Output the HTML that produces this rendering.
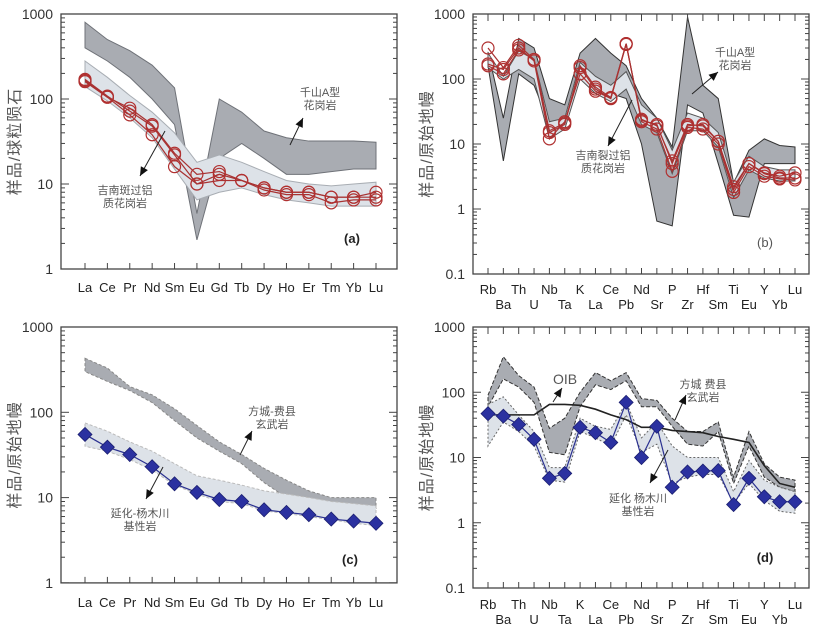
<!DOCTYPE html>
<html><head><meta charset="utf-8">
<style>
html,body{margin:0;padding:0;background:#fff;}
svg{display:block;}
text{font-family:"Liberation Sans","Noto Sans CJK SC",sans-serif;}
</style></head>
<body>
<svg id="fig" width="821" height="632" viewBox="0 0 821 632" xmlns="http://www.w3.org/2000/svg"></svg>
<script>
// ---------- DATA ----------
const reeCats = ["La","Ce","Pr","Nd","Sm","Eu","Gd","Tb","Dy","Ho","Er","Tm","Yb","Lu"];
const traceCats = ["Rb","Ba","Th","U","Nb","Ta","K","La","Ce","Pb","Nd","Sr","P","Zr","Hf","Sm","Ti","Eu","Y","Yb","Lu"];

// Panel (a)
const aDarkUpper = [800,500,370,250,135,4.5,100,70,42,35,32,32,32,31];
const aDarkLower = [400,280,180,100,50,2.2,20,30,20,13,13,14,15,15];
const aLightUpper = [280,180,110,70,40,18,22,18,14,11,10,9.5,10,10.5];
const aLightLower = [140,95,60,35,15,6.5,8,9,7.5,6.5,6,5.5,5.5,5.5];
const aSample1 = [165,105,78,50,23,13,14,11,9,8,8,7,7,8];
const aSample2 = [160,105,65,38,16,10,11,11,8.5,7.5,7.5,6,6.5,6.5];
const aSample3 = [170,108,72,48,22,10,13,11,9,8,8,7,7,7];

// Panel (b)
const bDarkUpper = [260,25,420,300,50,40,250,420,250,160,50,25,9,900,80,50,2.5,8,12,9.5,9];
const bDarkLower = [160,5.5,120,80,20,20,130,90,60,50,10,0.65,0.55,40,30,5,0.8,0.75,5,5,5];
const bLightUpper = [250,110,270,200,22,25,180,110,80,130,40,25,8,30,25,15,2.6,6.5,4.5,4,4];
const bLightLower = [150,100,140,100,12,17,100,60,45,70,20,15,3.5,16,16,9,1.5,4,3,2.7,2.7];
const bSample1 = [300,150,330,200,15,20,160,75,52,350,23,20,5,19,20,11,2.2,5,3.6,3.2,3.6];
const bSample2 = [170,140,300,190,12,22,120,65,50,350,22,17,3.8,18,17,10,1.8,4.5,3.2,2.9,2.8];
const bSample3 = [160,120,280,200,16,21,150,70,50,340,24,19,5.5,20,19,11,2,5,3.5,3,3];

// Panel (c)
const cDarkUpper = [430,330,200,160,110,70,45,32,22,16,12,10,10,10];
const cDarkLower = [300,230,180,130,80,50,35,25,15,10,9,8.5,8,7.5];
const cLightUpper = [75,60,45,35,25,18,16,14,12,11,10,9,8.5,8];
const cLightLower = [40,35,28,21,14,11,9,8.5,7,6.5,6,5.5,5,4.7];
const cSample = [55,39,32,23,14.5,11.5,9.5,9,7.2,6.7,6.3,5.6,5.3,5];

// Panel (d)
const dDarkUpper = [90,350,180,120,28,40,100,200,150,200,80,75,40,25,25,35,5,25,8,5,4.5];
const dDarkLower = [60,160,120,70,12,11,60,130,110,150,60,60,30,16,15,25,4,15,5,3.5,3];
const dLightUpper = [65,85,45,25,7,7,40,30,27,70,20,35,15,10,10,10,3,9,4.5,3.5,3];
const dLightLower = [15,35,25,15,4.5,4.2,25,20,15,45,12,16,4,5,5.5,5.5,2,4,2.2,1.5,1.4];
const dSample = [47,43,32,19,4.8,5.7,29,24,17,70,10,30,3.5,6,6.2,6.3,1.9,4.8,2.5,2.1,2.1];
const dOIB = [45,45,45,45,65,65,63,55,45,38,29,29,26,25,24,21,19,17,7.5,4,3.5];

// ---------- RENDER ----------
const NS = "http://www.w3.org/2000/svg";
const fig = document.getElementById('fig');
function mk(tag, attrs, parent){
  const e = document.createElementNS(NS, tag);
  for (const k in attrs) e.setAttribute(k, attrs[k]);
  (parent||fig).appendChild(e);
  return e;
}

function makePanel(cfg){
  const g = mk('g', {});
  
  
  const {x0,x1,yTop,decPx,vMax,vMin,cats,cx0,cx1} = cfg;
  const yBot = yTop + Math.log10(vMax/vMin)*decPx;
  const X = i => cx0 + (cx1-cx0)*i/(cats.length-1);
  const Y = v => yTop + (Math.log10(vMax) - Math.log10(v))*decPx;
  cfg.X = X; cfg.Y = Y; cfg.g = g;

  // bands
  cfg.bands.forEach(b => {
    let pts = b.upper.map((v,i)=>X(i)+','+Y(v));
    pts = pts.concat(b.lower.map((v,i)=>X(i)+','+Y(v)).reverse());
    const p = mk('polygon', {points: pts.join(' '), fill: b.fill, stroke: b.stroke, 'stroke-width': 1, 'stroke-dasharray': b.dash||'none'}, g);
    
    
  });

  // frame
  const fr = mk('rect', {x:x0, y:yTop, width:x1-x0, height:yBot-yTop, fill:'none', stroke:'#444', 'stroke-width':1.3}, g);
  
  

  // y ticks
  const ticks = mk('g', {stroke:'#444','stroke-width':1}, g);
  
  
  for (let d = Math.log10(vMin); d <= Math.log10(vMax)+1e-9; d++) {
    const base = Math.pow(10, d);
    const yy = Y(base);
    mk('line', {x1:x0, x2:x0+8, y1:yy, y2:yy}, ticks);
    mk('line', {x1:x1, x2:x1-8, y1:yy, y2:yy}, ticks);
    const lab = mk('text', {x:x0-8, y:yy+5, 'text-anchor':'end', 'font-size':14, fill:'#333'}, g);
    lab.textContent = base >= 1 ? String(Math.round(base)) : String(base);
    
    
    if (base < vMax) {
      for (let m = 2; m < 10; m++) {
        const ym = Y(base*m);
        mk('line', {x1:x0, x2:x0+4, y1:ym, y2:ym}, ticks);
        mk('line', {x1:x1, x2:x1-4, y1:ym, y2:ym}, ticks);
      }
    }
  }
  // x ticks and labels
  cats.forEach((c,i)=>{
    const xx = X(i);
    mk('line', {x1:xx, x2:xx, y1:yBot, y2:yBot-6, stroke:'#444'}, g);
    if (cfg.topTicks) mk('line', {x1:xx, x2:xx, y1:yTop, y2:yTop+7, stroke:'#444'}, g);
    const row = cfg.twoRows ? (i%2) : 0;
    const t = mk('text', {x:xx, y:cfg.labY + row*15, 'text-anchor':'middle', 'font-size':13, fill:'#222'}, g);
    t.textContent = c;
    
    
  });
  // y title
  const yt = mk('text', {x:0, y:0, transform:`translate(${x0-41},${(yTop+yBot)/2}) rotate(-90)`, 'text-anchor':'middle', 'font-size':16, fill:'#555', 'letter-spacing':1}, g);
  yt.textContent = cfg.yTitle;
  
  
  return cfg;
}

function drawLine(cfg, vals, color, width, name){
  const pts = vals.map((v,i)=>cfg.X(i)+','+cfg.Y(v)).join(' ');
  const l = mk('polyline', {points:pts, fill:'none', stroke:color, 'stroke-width':width}, cfg.g);
  
  
}
function drawCircles(cfg, vals, name){
  drawLine(cfg, vals, '#a83232', 1.2, name+'-line');
  vals.forEach((v,i)=>{
    const c = mk('circle', {cx:cfg.X(i), cy:cfg.Y(v), r:6, fill:'none', stroke:'#b03030', 'stroke-width':1.2}, cfg.g);
    
    
  });
}
function drawDiamonds(cfg, vals, name){
  drawLine(cfg, vals, '#2a3090', 1.2, name+'-line');
  vals.forEach((v,i)=>{
    const x = cfg.X(i), y = cfg.Y(v), s = 7;
    const d = mk('polygon', {points:`${x},${y-s} ${x+s},${y} ${x},${y+s} ${x-s},${y}`, fill:'#2b31a0', stroke:'#1b1f70', 'stroke-width':0.8}, cfg.g);
    
    
  });
}
function label(lines, x, y, name, size, weight){
  lines.forEach((s,k)=>{
    const t = mk('text', {x:x, y:y+k*13, 'text-anchor':'middle', 'font-size':size||11, fill:weight?'#222':'#555', 'font-weight':weight||'normal', 'font-family':'"Liberation Serif","Noto Serif CJK SC",serif'});
    t.textContent = s;
    
    
  });
}
function arrow(x1,y1,x2,y2,name){
  const g = mk('g', {});
  
  
  mk('line', {x1:x1,y1:y1,x2:x2,y2:y2,stroke:'#222','stroke-width':1}, g);
  const a = Math.atan2(y2-y1, x2-x1), L = 9, W = 4;
  const bx = x2 - L*Math.cos(a), by = y2 - L*Math.sin(a);
  mk('polygon', {points:`${x2},${y2} ${bx+W*Math.sin(a)},${by-W*Math.cos(a)} ${bx-W*Math.sin(a)},${by+W*Math.cos(a)}`, fill:'#111'}, g);
}

const DARK = '#a9acb2', DARKE = '#6f7278', LIGHT = '#dde2e8', LIGHTE = '#a8adb3';

// (a)
const pa = makePanel({name:'panel-a', x0:61, x1:397, yTop:14, decPx:85, vMax:1000, vMin:1, cats:reeCats, cx0:85, cx1:376, labY:292, yTitle:'样品/球粒陨石',
  bands:[{upper:aDarkUpper, lower:aDarkLower, fill:DARK, stroke:DARKE, name:'qianshan-a-type-granite-band'},
         {upper:aLightUpper, lower:aLightLower, fill:LIGHT, stroke:LIGHTE, name:'jinan-granite-band'}]});
drawCircles(pa, aSample1, 'sample-1');
drawCircles(pa, aSample2, 'sample-2');
drawCircles(pa, aSample3, 'sample-3');
label(['千山A型','花岗岩'], 320, 96, 'qianshan-label');
arrow(290,145,303,118,'qianshan-arrow');
label(['吉南斑过铝','质花岗岩'], 125, 194, 'jinan-label');
arrow(165,131,140,176,'jinan-arrow');
label(['(a)'], 352, 243, 'panel-a-tag', 13, 'bold');

// (b)
const pb = makePanel({name:'panel-b', x0:473, x1:809, yTop:14, decPx:65, vMax:1000, vMin:0.1, cats:traceCats, cx0:488, cx1:795, labY:294, twoRows:true, topTicks:true, yTitle:'样品/原始地幔',
  bands:[{upper:bDarkUpper, lower:bDarkLower, fill:DARK, stroke:'#333', name:'qianshan-a-type-granite-band'},
         {upper:bLightUpper, lower:bLightLower, fill:LIGHT, stroke:'#555', name:'jinan-granite-band'}]});
drawCircles(pb, bSample1, 'sample-1');
drawCircles(pb, bSample2, 'sample-2');
drawCircles(pb, bSample3, 'sample-3');
label(['千山A型','花岗岩'], 735, 56, 'qianshan-label');
arrow(692,94,718,72,'qianshan-arrow');
label(['吉南裂过铝','质花岗岩'], 603, 159, 'jinan-label');
arrow(632,100,608,146,'jinan-arrow');
label(['(b)'], 765, 247, 'panel-b-tag', 13);

// (c)
const pc = makePanel({name:'panel-c', x0:61, x1:397, yTop:327, decPx:85.3, vMax:1000, vMin:1, cats:reeCats, cx0:85, cx1:376, labY:607, yTitle:'样品/原始地幔',
  bands:[{upper:cDarkUpper, lower:cDarkLower, fill:DARK, stroke:'#888', dash:'3,2', name:'fangcheng-feixian-basalt-band'},
         {upper:cLightUpper, lower:cLightLower, fill:LIGHT, stroke:'#bbb', dash:'3,2', name:'yanhua-yangmuchuan-band'}]});
drawDiamonds(pc, cSample, 'sample');
label(['方城-费县','玄武岩'], 272, 415, 'fangcheng-label');
arrow(240,455,252,431,'fangcheng-arrow');
label(['延化-杨木川','基性岩'], 140, 517, 'yanhua-label');
arrow(163,467,146,499,'yanhua-arrow');
label(['(c)'], 350, 564, 'panel-c-tag', 13, 'bold');

// (d)
const pd = makePanel({name:'panel-d', x0:473, x1:809, yTop:327, decPx:65.25, vMax:1000, vMin:0.1, cats:traceCats, cx0:488, cx1:795, labY:609, twoRows:true, topTicks:true, yTitle:'样品/原始地幔',
  bands:[{upper:dDarkUpper, lower:dDarkLower, fill:DARK, stroke:'#333', dash:'4,2', name:'fangcheng-feixian-basalt-band'},
         {upper:dLightUpper, lower:dLightLower, fill:LIGHT, stroke:'#666', dash:'2,2', name:'yanhua-yangmuchuan-band'}]});
drawLine(pd, dOIB, '#222', 1.6, 'oib-line');
drawDiamonds(pd, dSample, 'sample');
label(['OIB'], 565, 384, 'oib-label', 14);
arrow(553,402,562,388,'oib-arrow');
label(['方城 费县','玄武岩'], 703, 388, 'fangcheng-label');
arrow(675,420,686,395,'fangcheng-arrow');
label(['延化 杨木川','基性岩'], 638, 502, 'yanhua-label');
arrow(668,450,650,483,'yanhua-arrow');
label(['(d)'], 765, 562, 'panel-d-tag', 13, 'bold');
</script>
</body></html>
